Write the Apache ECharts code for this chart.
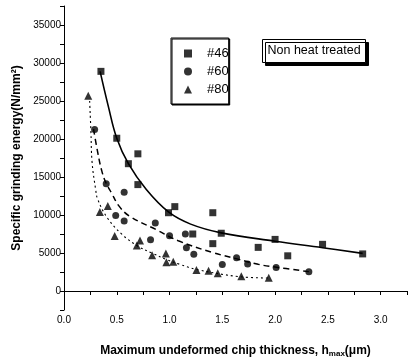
<!DOCTYPE html>
<html>
<head>
<meta charset="utf-8">
<script src="https://cdn.jsdelivr.net/npm/echarts@6/dist/echarts.min.js"></script>
<style>
  html, body { margin: 0; padding: 0; background: #fff; }
  #chart { width: 408px; height: 362px; }
</style>
</head>
<body>
<div id="chart"></div>
<script>
// measured points, [h_max (um), specific energy (N/mm2)]
const grit46 = [
  [0.35, 28900], [0.50, 20100], [0.61, 16750], [0.70, 18050], [0.70, 14000],
  [0.99, 10300], [1.05, 11100], [1.22, 7500], [1.41, 10300], [1.41, 6230],
  [1.49, 7600], [1.84, 5740], [2.00, 6790], [2.12, 4630], [2.45, 6140], [2.83, 4880]
];
const grit60 = [
  [0.29, 21250], [0.40, 14120], [0.57, 13000], [0.49, 9950], [0.57, 9200],
  [0.865, 8940], [0.82, 6750], [1.00, 7280], [1.15, 7490], [1.16, 5700],
  [1.23, 4820], [1.50, 3480], [1.635, 4390], [1.74, 3560], [2.01, 3100], [2.32, 2520]
];
const grit80 = [
  [0.23, 25700], [0.34, 10380], [0.415, 11170], [0.48, 7230], [0.69, 6000],
  [0.72, 6660], [0.835, 4690], [0.965, 4950], [0.97, 3770], [1.035, 3860],
  [1.255, 2760], [1.37, 2650], [1.457, 2330], [1.68, 1930], [1.94, 1750]
];

// fitted curves
const fit46 = [
  [0.342, 28900], [0.42, 24300], [0.50, 20100], [0.61, 16750], [0.78, 13350],
  [0.99, 10400], [1.20, 8800], [1.49, 7650], [2.00, 6550], [2.45, 5700], [2.83, 4950]
];
const fit60 = [
  [0.28, 21300], [0.32, 18200], [0.358, 15800], [0.40, 14150], [0.45, 12900],
  [0.52, 11200], [0.62, 9860], [0.87, 8100], [1.09, 6570], [1.41, 5050],
  [1.63, 4260], [1.84, 3510], [2.00, 3150], [2.32, 2550]
];
const fit80 = [
  [0.243, 25000], [0.255, 21000], [0.266, 16950], [0.30, 13360], [0.32, 12050],
  [0.41, 9640], [0.55, 7450], [0.70, 5900], [0.84, 4950], [0.966, 4170],
  [1.10, 3500], [1.25, 2850], [1.66, 1890], [1.94, 1710]
];

const seriesNames = ['#46', '#60', '#80'];
const symbols = ['rect', 'circle', 'triangle'];

const chart = echarts.init(document.getElementById('chart'));

const axisFont = { fontFamily: 'Liberation Sans', color: '#000' };

const option = {
  backgroundColor: '#fff',
  animation: false,
  grid: { left: 64, right: 1, top: 6, bottom: 52, outerBoundsMode: 'none' },
  legend: {
    data: seriesNames,
    orient: 'vertical',
    left: 171,
    top: 38,
    padding: [9, 0, 8, 13],
    itemGap: 5,
    itemWidth: 8,
    itemHeight: 8,
    borderColor: '#000',
    borderWidth: 1,
    backgroundColor: '#fff',
    shadowColor: '#000',
    shadowBlur: 0,
    shadowOffsetX: 1,
    shadowOffsetY: 1,
    textStyle: { fontFamily: 'Liberation Sans', fontSize: 13, color: '#000', padding: [0, 0, 0, 10] }
  },
  graphic: [
    {
      type: 'group',
      left: 262,
      top: 39,
      children: [
        {
          type: 'rect',
          shape: { x: 0, y: 0, width: 103, height: 23 },
          style: {
            fill: '#fff', stroke: '#000', lineWidth: 1,
            shadowColor: '#000', shadowBlur: 0, shadowOffsetX: 3, shadowOffsetY: 3
          }
        },
        {
          type: 'text',
          left: 5,
          top: 5,
          style: { text: 'Non heat treated', font: '12.5px "Liberation Sans"', fill: '#000' }
        }
      ]
    }
  ],
  xAxis: {
    type: 'value',
    min: 0,
    max: 3.25,
    interval: 0.25,
    name: 'Maximum undeformed chip thickness, h{sub|max}(\u03bcm)',
    nameLocation: 'middle',
    nameGap: 33,
    nameTextStyle: {
      ...axisFont, fontSize: 12, fontWeight: 'bold',
      rich: { sub: { fontFamily: 'Liberation Sans', fontSize: 8, fontWeight: 'bold', color: '#000', padding: [7, 0, 0, 0] } }
    },
    axisLine: { lineStyle: { color: '#000', width: 1 } },
    axisTick: { length: 4, lineStyle: { color: '#000' } },
    axisLabel: {
      ...axisFont, fontSize: 10, margin: 5,
      formatter: v => (Math.round(v * 100) % 50 === 0 ? v.toFixed(1) : '')
    },
    splitLine: { show: false }
  },
  yAxis: {
    type: 'value',
    min: -2500,
    max: 37500,
    interval: 2500,
    name: 'Specific grinding energy(N/mm\u00b2)',
    nameLocation: 'middle',
    nameGap: 39,
    nameTextStyle: { ...axisFont, fontSize: 12, fontWeight: 'bold' },
    axisLine: { show: true, lineStyle: { color: '#000', width: 1 } },
    axisTick: { length: 4, lineStyle: { color: '#000' } },
    axisLabel: {
      ...axisFont, fontSize: 10, margin: 3,
      formatter: v => (v >= 0 && v % 5000 === 0 ? String(v) : '')
    },
    splitLine: { show: false }
  },
  series: [
    { name: '#46', type: 'scatter', data: grit46, symbol: symbols[0], symbolSize: 7, itemStyle: { color: '#000' }, z: 3 },
    { name: '#60', type: 'scatter', data: grit60, symbol: symbols[1], symbolSize: 7, itemStyle: { color: '#000' }, z: 3 },
    { name: '#80', type: 'scatter', data: grit80, symbol: symbols[2], symbolSize: 8, itemStyle: { color: '#000' }, z: 3 },
    {
      name: 'fit46', type: 'line', data: fit46, smooth: 0.4, showSymbol: false,
      lineStyle: { color: '#000', width: 1.6, type: 'solid' }
    },
    {
      name: 'fit60', type: 'line', data: fit60, smooth: 0.4, showSymbol: false,
      lineStyle: { color: '#000', width: 1.5, type: [6, 4] }
    },
    {
      name: 'fit80', type: 'line', data: fit80, smooth: 0.4, showSymbol: false,
      lineStyle: { color: '#000', width: 1.1, type: [2, 3] }
    }
  ]
};

chart.setOption(option);
</script>
</body>
</html>
